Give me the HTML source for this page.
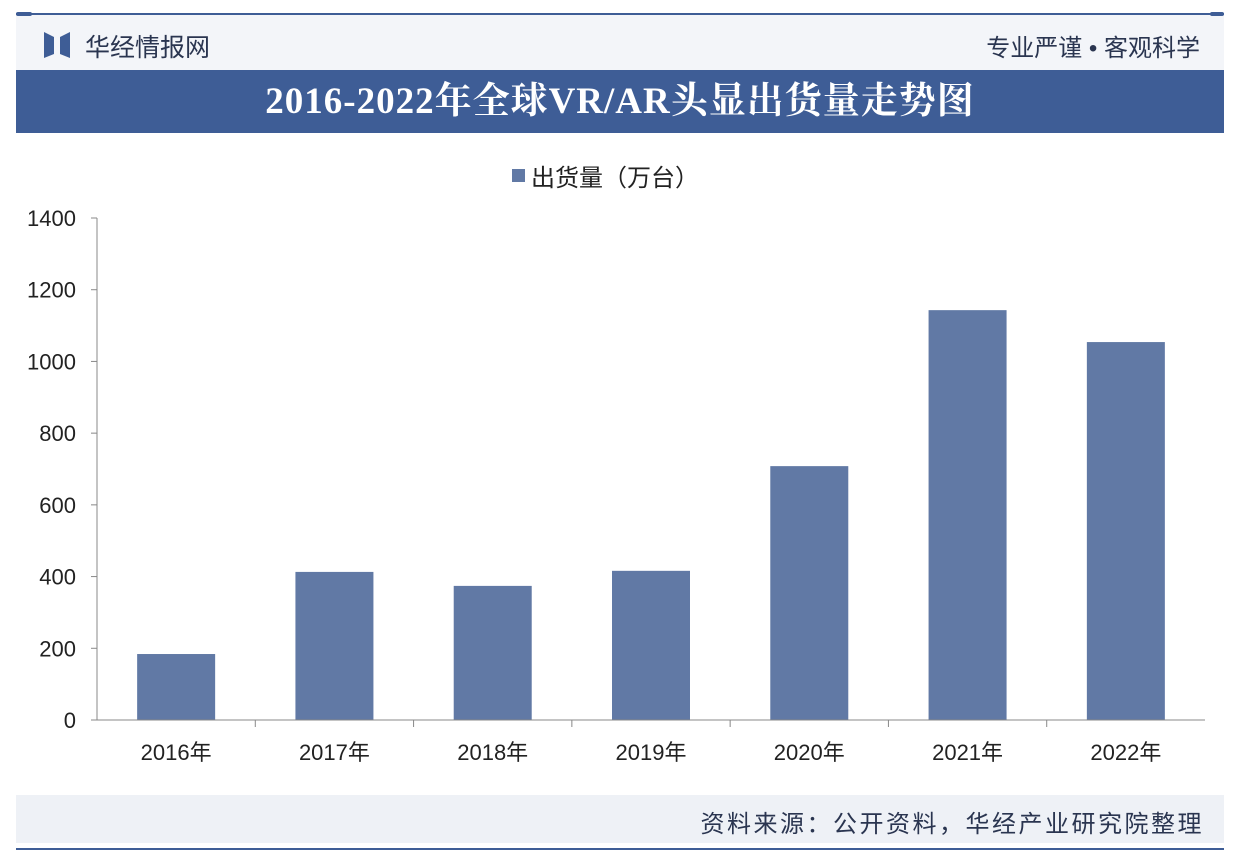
<!DOCTYPE html>
<html><head><meta charset="utf-8"><style>
body{margin:0;width:1238px;height:860px;background:#fff;position:relative;overflow:hidden;font-family:"Liberation Sans","Noto Sans CJK SC",sans-serif}
.abs{position:absolute}
</style></head><body>
<div class="abs" style="left:16px;top:15px;width:1208px;height:55px;background:#f3f5f9"></div>
<div class="abs" style="left:16px;top:13px;width:1208px;height:2px;background:#3e5d96"></div>
<div class="abs" style="left:16px;top:12px;width:16px;height:4px;border-radius:2px;background:#3e5d96"></div>
<div class="abs" style="left:1210px;top:12px;width:14px;height:4px;border-radius:2px;background:#3e5d96"></div>
<svg class="abs" style="left:44px;top:32px" width="26" height="26"><polygon points="0,0 10,5 10,22 0,26" fill="#3e5d96"/><polygon points="26,0 16,5 16,22 26,26" fill="#3e5d96"/></svg>
<div class="abs" style="left:85px;top:28px;font-size:25px;color:#2a3550">华经情报网</div>
<div class="abs" style="right:38px;top:28px;font-size:24px;color:#2a3550">专业严谨 • 客观科学</div>
<div class="abs" style="left:16px;top:70px;width:1208px;height:63px;background:#3e5d96;color:#fff;font:bold 37px 'Liberation Serif','Noto Serif CJK SC',serif;text-align:center;line-height:63px;letter-spacing:1px">2016-2022年全球VR/AR头显出货量走势图</div>
<div class="abs" style="left:512px;top:158px;font-size:24px;color:#222;display:flex;align-items:center"><span style="width:13px;height:13px;background:#6179a5;display:inline-block;margin-right:6px"></span>出货量（万台）</div>
<svg class="abs" id="chart" style="left:0;top:0" width="1238" height="860"></svg>
<div class="abs" style="left:16px;top:795px;width:1208px;height:48px;background:#eef1f6"></div>
<div class="abs" style="right:34px;top:804px;font-size:24px;color:#2a3550;letter-spacing:2.5px">资料来源：公开资料，华经产业研究院整理</div>
<div class="abs" style="left:16px;top:848px;width:1208px;height:2px;background:#3e5d96"></div>
<script>
const categories=["2016年","2017年","2018年","2019年","2020年","2021年","2022年"];
const values=[184,413,374,416,708,1143,1054];
const yTicks=[0,200,400,600,800,1000,1200,1400];
const svg=document.getElementById('chart');const NS='http://www.w3.org/2000/svg';
const x0=97,x1=1205,yB=720,yT=218,yMax=1400;
const y=v=>yB-(v/yMax)*(yB-yT);
const band=(x1-x0)/categories.length;
const xc=i=>x0+band*(i+0.5);
function mk(t,a){const e=document.createElementNS(NS,t);for(const k in a)e.setAttribute(k,a[k]);svg.appendChild(e);return e;}
yTicks.forEach(v=>{const t=mk('text',{x:76,y:y(v)+8,'text-anchor':'end','font-size':22,fill:'#222','font-family':'Liberation Sans'});t.textContent=v;


const l=mk('line',{x1:x0-6,x2:x0,y1:y(v),y2:y(v),stroke:'#888'});

});
values.forEach((v,i)=>{const r=mk('rect',{x:xc(i)-39,y:y(v),width:78,height:yB-y(v),fill:'#6179a5'});


const t=mk('text',{x:xc(i),y:760,'text-anchor':'middle','font-size':22,fill:'#222','font-family':'Liberation Sans, Noto Sans CJK SC'});t.textContent=categories[i];


if(i>0){const k=mk('line',{x1:x0+band*i,x2:x0+band*i,y1:yB,y2:yB+7,stroke:'#888'});

}});
const ya=mk('line',{x1:x0,x2:x0,y1:yT,y2:yB,stroke:'#888'});


const xa=mk('line',{x1:x0,x2:x1,y1:yB,y2:yB,stroke:'#888'});


</script>
</body></html>
